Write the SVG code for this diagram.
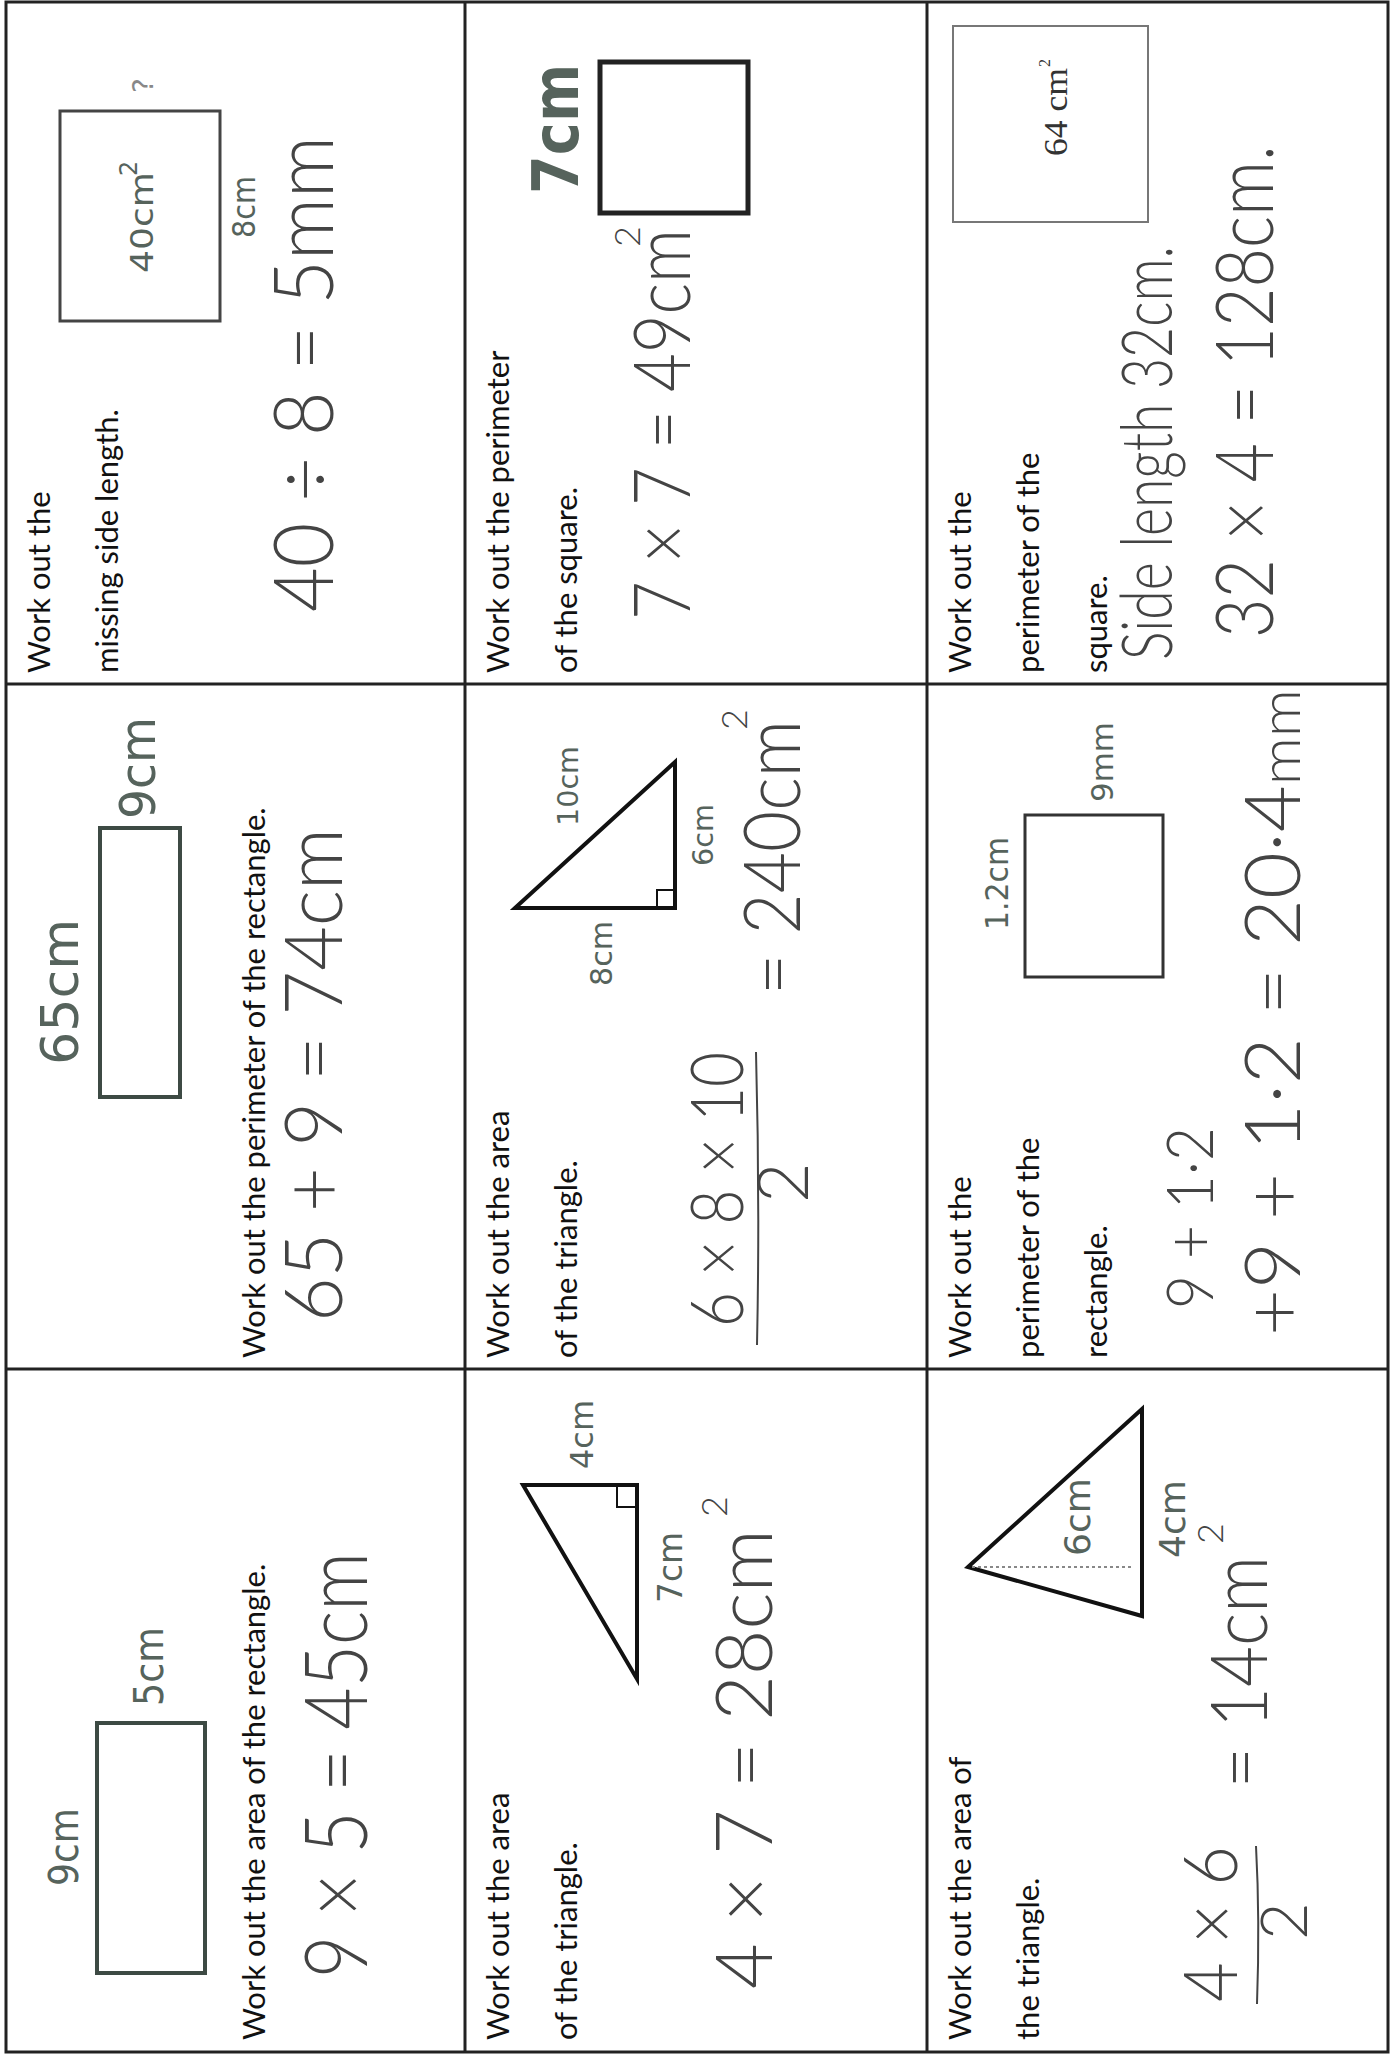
<svg xmlns="http://www.w3.org/2000/svg" width="1397" height="2059" viewBox="0 0 1397 2059">
<style>
.q{font-family:Lato,"Open Sans",sans-serif;font-size:31px;fill:#111}
.lb{font-family:"DejaVu Sans",sans-serif;fill:#56635c}
.hw{font-family:Lato,"Open Sans",sans-serif;font-weight:300;fill:#444}
.sh{fill:none;stroke-linejoin:miter}
.grid{fill:none;stroke:#222;stroke-width:3}
</style>
<rect width="1397" height="2059" fill="#fff"/>
<g id="grid">
<rect class="grid" x="6" y="2" width="1382" height="2050"/>
<line class="grid" x1="465" y1="2" x2="465" y2="2052"/>
<line class="grid" x1="927" y1="2" x2="927" y2="2052"/>
<line class="grid" x1="6" y1="684" x2="1388" y2="684"/>
<line class="grid" x1="6" y1="1369" x2="1388" y2="1369"/>
</g>

<g id="cell-a1">
<text class="q" transform="translate(50,673) rotate(-90)">Work out the</text>
<text class="q" transform="translate(118,673) rotate(-90)">missing side length.</text>
<rect class="sh" x="60" y="111" width="160" height="210" stroke="#444" stroke-width="3"/>
<text class="lb" font-size="32" textLength="101" lengthAdjust="spacingAndGlyphs" transform="translate(153,273) rotate(-90)">40cm</text>
<text class="lb" font-size="24" transform="translate(137,176) rotate(-90)">2</text>
<text class="lb" font-size="32" textLength="62" lengthAdjust="spacingAndGlyphs" transform="translate(255,238) rotate(-90)">8cm</text>
<text font-family="DejaVu Sans,sans-serif" font-size="28" fill="#888" transform="translate(153,93) rotate(-90)">?</text>
<text class="hw" font-size="82" textLength="476" lengthAdjust="spacingAndGlyphs" transform="translate(333,612) rotate(-90)">40 ÷ 8 = 5mm</text>
</g>

<g id="cell-b1">
<text class="q" transform="translate(509,673) rotate(-90)">Work out the perimeter</text>
<text class="q" transform="translate(577,673) rotate(-90)">of the square.</text>
<rect class="sh" x="600" y="62" width="148" height="151" stroke="#222" stroke-width="5"/>
<text class="lb" font-size="64" font-weight="bold" textLength="130" lengthAdjust="spacingAndGlyphs" transform="translate(578,194) rotate(-90)">7cm</text>
<text class="hw" font-size="78" textLength="391" lengthAdjust="spacingAndGlyphs" transform="translate(690,620) rotate(-90)">7 × 7 = 49cm</text>
<text class="hw" font-size="36" transform="translate(640,247) rotate(-90)">2</text>
</g>

<g id="cell-c1">
<text class="q" transform="translate(971,673) rotate(-90)">Work out the</text>
<text class="q" transform="translate(1039,673) rotate(-90)">perimeter of the</text>
<text class="q" transform="translate(1107,673) rotate(-90)">square.</text>
<rect class="sh" x="953" y="26" width="195" height="196" stroke="#777" stroke-width="2"/>
<text font-family="Liberation Serif,serif" font-size="34" fill="#333" textLength="88" lengthAdjust="spacingAndGlyphs" transform="translate(1067,156) rotate(-90)">64 cm</text>
<text font-family="Liberation Serif,serif" font-size="16" fill="#333" transform="translate(1050,67) rotate(-90)">2</text>
<text class="hw" font-size="70" textLength="414" lengthAdjust="spacingAndGlyphs" transform="translate(1172,660) rotate(-90)">Side length 32cm.</text>
<text class="hw" font-size="80" textLength="493" lengthAdjust="spacingAndGlyphs" transform="translate(1273,638) rotate(-90)">32 × 4 = 128cm.</text>
</g>

<g id="cell-a2">
<text class="q" transform="translate(265,1358) rotate(-90)">Work out the perimeter of the rectangle.</text>
<rect class="sh" x="100" y="828" width="80" height="269" stroke="#3d4a44" stroke-width="4"/>
<text class="lb" font-size="52" textLength="146" lengthAdjust="spacingAndGlyphs" transform="translate(78,1065) rotate(-90)">65cm</text>
<text class="lb" font-size="50" textLength="102" lengthAdjust="spacingAndGlyphs" transform="translate(155,819) rotate(-90)">9cm</text>
<text class="hw" font-size="80" textLength="494" lengthAdjust="spacingAndGlyphs" transform="translate(342,1322) rotate(-90)">65 + 9 = 74cm</text>
</g>

<g id="cell-b2">
<text class="q" transform="translate(509,1358) rotate(-90)">Work out the area</text>
<text class="q" transform="translate(577,1358) rotate(-90)">of the triangle.</text>
<polygon class="sh" points="515,908 675,762 675,908" stroke="#111" stroke-width="4"/>
<polyline class="sh" points="657,908 657,890 675,890" stroke="#111" stroke-width="2"/>
<text class="lb" font-size="29" textLength="80" lengthAdjust="spacingAndGlyphs" transform="translate(578,826) rotate(-90)">10cm</text>
<text class="lb" font-size="28" textLength="62" lengthAdjust="spacingAndGlyphs" transform="translate(713,866) rotate(-90)">6cm</text>
<text class="lb" font-size="30" textLength="65" lengthAdjust="spacingAndGlyphs" transform="translate(612,986) rotate(-90)">8cm</text>
<text class="hw" font-size="72" textLength="275" lengthAdjust="spacingAndGlyphs" transform="translate(743,1327) rotate(-90)">6 × 8 × 10</text>
<path d="M757,1345 Q760,1200 756,1052" fill="none" stroke="#444" stroke-width="2"/>
<text class="hw" font-size="70" transform="translate(808,1203) rotate(-90)">2</text>
<text class="hw" font-size="78" textLength="275" lengthAdjust="spacingAndGlyphs" transform="translate(800,995) rotate(-90)">= 240cm</text>
<text class="hw" font-size="36" transform="translate(747,730) rotate(-90)">2</text>
</g>

<g id="cell-c2">
<text class="q" transform="translate(971,1358) rotate(-90)">Work out the</text>
<text class="q" transform="translate(1039,1358) rotate(-90)">perimeter of the</text>
<text class="q" transform="translate(1107,1358) rotate(-90)">rectangle.</text>
<rect class="sh" x="1025" y="815" width="138" height="162" stroke="#333" stroke-width="3"/>
<text class="lb" font-size="32" textLength="93" lengthAdjust="spacingAndGlyphs" transform="translate(1008,930) rotate(-90)">1.2cm</text>
<text class="lb" font-size="30" textLength="80" lengthAdjust="spacingAndGlyphs" transform="translate(1113,802) rotate(-90)">9mm</text>
<text class="hw" font-size="66" textLength="182" lengthAdjust="spacingAndGlyphs" transform="translate(1213,1309) rotate(-90)">9 + 1·2</text>
<text class="hw" font-size="76" textLength="647" lengthAdjust="spacingAndGlyphs" transform="translate(1300,1336) rotate(-90)">+9 + 1·2 = 20·4<tspan font-size="56">mm</tspan></text>
</g>

<g id="cell-a3">
<text class="q" transform="translate(265,2040) rotate(-90)">Work out the area of the rectangle.</text>
<rect class="sh" x="97" y="1723" width="108" height="250" stroke="#3d4a44" stroke-width="4"/>
<text class="lb" font-size="40" textLength="78" lengthAdjust="spacingAndGlyphs" transform="translate(78,1886) rotate(-90)">9cm</text>
<text class="lb" font-size="40" textLength="79" lengthAdjust="spacingAndGlyphs" transform="translate(163,1706) rotate(-90)">5cm</text>
<text class="hw" font-size="86" textLength="426" lengthAdjust="spacingAndGlyphs" transform="translate(367,1978) rotate(-90)">9 × 5 = 45cm</text>
</g>

<g id="cell-b3">
<text class="q" transform="translate(509,2040) rotate(-90)">Work out the area</text>
<text class="q" transform="translate(577,2040) rotate(-90)">of the triangle.</text>
<polygon class="sh" points="523,1485 637,1485 637,1679" stroke="#111" stroke-width="4"/>
<polyline class="sh" points="617,1485 617,1507 637,1507" stroke="#111" stroke-width="2"/>
<text class="lb" font-size="32" textLength="69" lengthAdjust="spacingAndGlyphs" transform="translate(593,1469) rotate(-90)">4cm</text>
<text class="lb" font-size="34" textLength="71" lengthAdjust="spacingAndGlyphs" transform="translate(682,1603) rotate(-90)">7cm</text>
<text class="hw" font-size="78" textLength="460" lengthAdjust="spacingAndGlyphs" transform="translate(772,1989) rotate(-90)">4 × 7 = 28cm</text>
<text class="hw" font-size="36" transform="translate(727,1517) rotate(-90)">2</text>
</g>

<g id="cell-c3">
<text class="q" transform="translate(971,2040) rotate(-90)">Work out the area of</text>
<text class="q" transform="translate(1039,2040) rotate(-90)">the triangle.</text>
<polygon class="sh" points="968,1567 1142,1409 1142,1616" stroke="#111" stroke-width="4"/>
<line x1="972" y1="1567" x2="1132" y2="1567" stroke="#888" stroke-width="2" stroke-dasharray="3,3"/>
<text class="lb" font-size="36" textLength="78" lengthAdjust="spacingAndGlyphs" transform="translate(1090,1556) rotate(-90)">6cm</text>
<text class="lb" font-size="36" textLength="78" lengthAdjust="spacingAndGlyphs" transform="translate(1185,1558) rotate(-90)">4cm</text>
<text class="hw" font-size="74" textLength="156" lengthAdjust="spacingAndGlyphs" transform="translate(1237,2002) rotate(-90)">4 × 6</text>
<path d="M1257,2004 Q1260,1920 1256,1846" fill="none" stroke="#444" stroke-width="2"/>
<text class="hw" font-size="65" transform="translate(1307,1940) rotate(-90)">2</text>
<text class="hw" font-size="78" textLength="232" lengthAdjust="spacingAndGlyphs" transform="translate(1267,1788) rotate(-90)">= 14cm</text>
<text class="hw" font-size="36" transform="translate(1223,1544) rotate(-90)">2</text>
</g>
</svg>
